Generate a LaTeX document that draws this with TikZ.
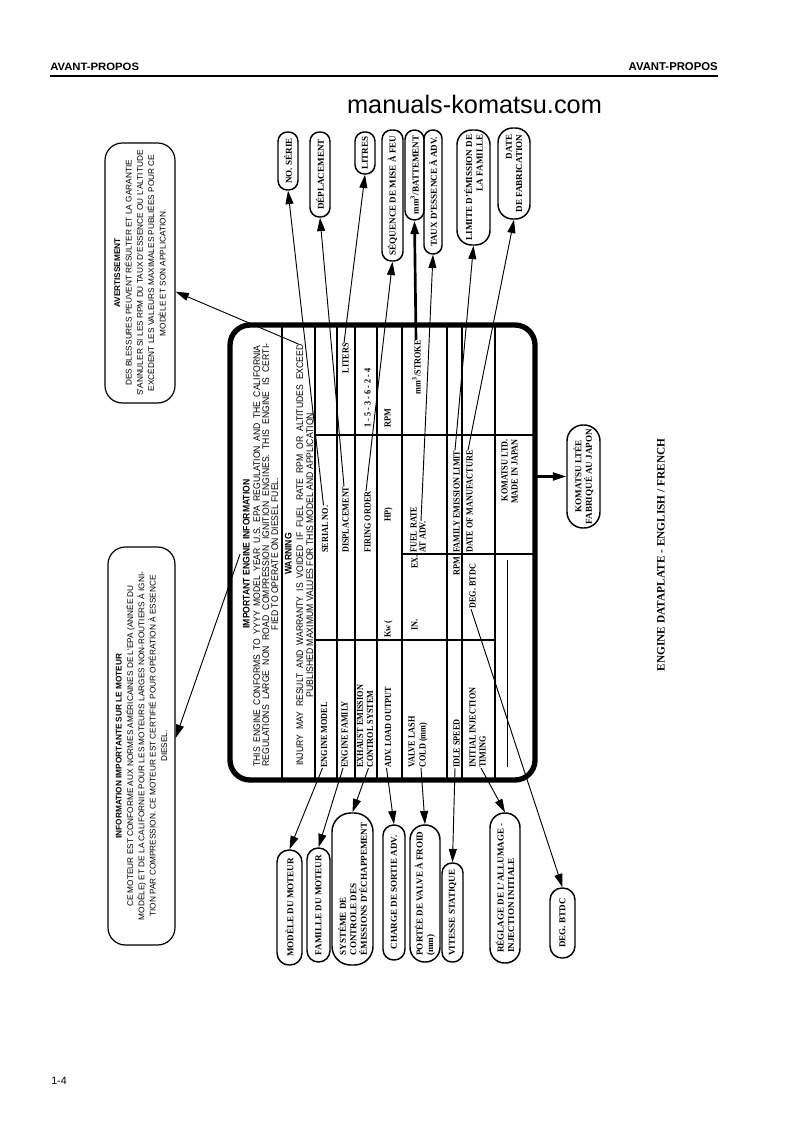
\documentclass[tikz,border=0pt]{standalone}
\usepackage{fontspec}
\setmainfont{Liberation Serif}
\newfontfamily\hdrsans[FakeStretch=0.9]{Liberation Sans}
\newfontfamily\tabserif[FakeStretch=0.88]{Liberation Serif}
\newfontfamily\notesans{Liberation Sans}
\newfontfamily\widesans[FakeStretch=1.06]{Liberation Sans}
\usetikzlibrary{arrows.meta}
\frenchspacing
\begin{document}
\begin{tikzpicture}[x=0.75pt,y=-0.75pt,
  lbl/.style={inner sep=0pt, rotate=90, text height=0.7em, text depth=0pt},
  tab/.style={lbl, font=\tabserif\bfseries\fontsize{7}{8}\selectfont},
  hdr/.style={lbl, font=\hdrsans\fontsize{7.2}{8}\selectfont},
  hdrb/.style={lbl, font=\hdrsans\bfseries\fontsize{7.2}{8}\selectfont},
  pill/.style={draw, line width=1.1pt, rotate=90, inner sep=0pt, align=center, font=\bfseries\fontsize{6.8}{7.8}\selectfont},
  notebox/.style={draw, line width=0.9pt, rounded corners=13pt, rotate=90, inner sep=0pt, align=center, font=\notesans\fontsize{6.2}{8.5}\selectfont},
  lead/.style={line width=0.7pt, -{Triangle[length=10pt,width=6pt]}},
  grid/.style={line width=1.1pt}]

\useasboundingbox (0,0) rectangle (794,1123);
\fill[white] (0,0) rectangle (794,1123);

% page header and footer
\node[anchor=west, inner sep=0pt, font=\widesans\bfseries\fontsize{8}{9}\selectfont] (hl) at (50,67) {AVANT-PROPOS};
\node[anchor=east, inner sep=0pt, font=\notesans\bfseries\fontsize{8.5}{9}\selectfont] (hr) at (718,67) {AVANT-PROPOS};
\draw[line width=0.8pt] (50,76) -- (718,76);
\node[inner sep=0pt, font=\notesans\fontsize{19}{22}\selectfont] (site) at (474.5,104) {manuals-komatsu.com};
\node[anchor=west, inner sep=0pt, font=\notesans\fontsize{8}{9}\selectfont] (pg) at (51,1081) {1-4};

% plate
\node[draw, line width=4pt, rounded corners=15pt, minimum width=228.75pt, minimum height=341.25pt, inner sep=0pt] (plate) at (382.5,552.5) {};
\foreach \x in {282,315,337,355,377,402,447,462,495} \draw[grid] (\x,326) -- (\x,779);
\draw[grid] (315,435) -- (534,435);
\draw[grid] (315,640) -- (495,640);
\draw[grid] (402,554) -- (534,554);
\draw[line width=0.7pt] (507,560) -- (507,767);

% plate header text
\node[hdrb] (iei) at (245,554) {IMPORTANT ENGINE INFORMATION};
\node[hdr] (conf1) at (255.5,556) {\makebox[316pt][s]{THIS ENGINE CONFORMS TO YYYY MODEL YEAR U.S. EPA REGULATION AND THE CALIFORNIA}};
\node[hdr] (conf2) at (264.5,555) {\makebox[317pt][s]{REGULATIONS LARGE NON ROAD COMPRESSION IGNITION ENGINES. THIS ENGINE IS CERTI-}};
\node[hdr] (conf3) at (273.5,554) {FIED TO OPERATE ON DIESEL FUEL.};
\node[hdrb] (warn) at (287,554) {WARNING};
\node[hdr] (injury) at (298.5,555) {\makebox[316pt][s]{INJURY MAY RESULT AND WARRANTY IS VOIDED IF FUEL RATE RPM OR ALTITUDES EXCEED}};
\node[hdr] (publ) at (308.5,554) {PUBLISHED MAXIMUM VALUES FOR THIS MODEL AND APPLICATION.};

% table text
\node[tab, anchor=west] (emodel) at (322.5,768) {ENGINE MODEL};
\node[tab, anchor=west] (serial) at (323.5,553) {SERIAL NO.};
\node[tab, anchor=west] (efam) at (343,768) {ENGINE FAMILY};
\node[tab, anchor=west] (displ) at (344,553) {DISPLACEMENT};
\node[tab, anchor=east] (liters) at (344,343) {LITERS};
\node[tab, anchor=west] (exh) at (358.5,768) {EXHAUST EMISSION};
\node[tab, anchor=west] (ctrl) at (368.5,768) {CONTROL SYSTEM};
\node[tab, anchor=west] (firing) at (366,553) {FIRING ORDER};
\node[tab] (order) at (366,398) {1 - 5 - 3 - 6 - 2 - 4};
\node[tab, anchor=west] (advload) at (386.5,768) {ADV. LOAD OUTPUT};
\node[tab, anchor=west] (kw) at (386,638) {Kw (};
\node[tab, anchor=west] (hp) at (386,522) {HP)};
\node[tab] (rpm1) at (386,418) {RPM};
\node[tab, anchor=west] (vlash) at (410,768) {VALVE LASH};
\node[tab, anchor=west] (cold) at (421,768) {COLD (mm)};
\node[tab, anchor=west] (inn) at (413,631) {IN.};
\node[tab, anchor=west] (exx) at (413,569) {EX.};
\node[tab, anchor=west] (fuel) at (412,553) {FUEL RATE};
\node[tab, anchor=west] (atadv) at (421,553) {AT ADV.};
\node[tab, anchor=east] (stroke) at (416,340) {mm\textsuperscript{3}/STROKE};
\node[tab, anchor=west] (idle) at (455,768) {IDLE SPEED};
\node[tab, anchor=west] (rpm2) at (455,576) {RPM};
\node[tab, anchor=west] (famlim) at (455,553) {FAMILY EMISSION LIMIT};
\node[tab, anchor=west] (initinj) at (471,768) {INITIAL INJECTION};
\node[tab, anchor=west] (timing) at (481,768) {TIMING};
\node[tab, anchor=west] (deg) at (471,609) {DEG. BTDC};
\node[tab, anchor=west] (dom) at (468,553) {DATE OF MANUFACTURE};
\node[tab, anchor=east] (kltd) at (503,439) {KOMATSU LTD.};
\node[tab, anchor=east] (mij) at (513,439) {MADE IN JAPAN};

% top bubbles
\node[pill, minimum width=43.5pt, minimum height=15pt, rounded corners=7pt] (noserie) at (288,161) {NO. SÉRIE};
\node[pill, minimum width=63.75pt, minimum height=15pt, rounded corners=7pt] (deplac) at (320,174.5) {DÉPLACEMENT};
\node[pill, minimum width=31.5pt, minimum height=15pt, rounded corners=7pt] (litres) at (365,153) {LITRES};
\node[pill, minimum width=98.25pt, minimum height=15.75pt, rounded corners=7pt] (sequence) at (392.5,195.5) {SÉQUENCE DE MISE À FEU};
\node[pill, minimum width=67.5pt, minimum height=14.25pt, rounded corners=7pt] (mmbat) at (414.5,175) {mm\textsuperscript{3}/BATTEMENT};
\node[pill, minimum width=93pt, minimum height=13.5pt, rounded corners=6.5pt] (taux) at (433,192) {TAUX D'ESSENCE À ADV.};
\node[pill, minimum width=86.25pt, minimum height=24.75pt, rounded corners=11pt, align=right] (limite) at (473.5,187.5) {LIMITE D'ÉMISSION DE\\LA FAMILLE};
\node[pill, minimum width=68.25pt, minimum height=24pt, rounded corners=11pt, align=right] (datefab) at (514,173.5) {DATE\\DE FABRICATION};

% bottom bubbles
\node[pill, minimum width=86.25pt, minimum height=18.75pt, rounded corners=9pt] (modele) at (289.5,907.5) {MODÈLE DU MOTEUR};
\node[pill, minimum width=85.5pt, minimum height=17.25pt, rounded corners=8.5pt] (famille) at (318.5,905) {FAMILLE DU MOTEUR};
\node[pill, minimum width=114pt, minimum height=30.75pt, rounded corners=14pt, align=left] (systeme) at (352.5,889) {SYSTÈME DE\\CONTROLE DES\\ÉMISSIONS D'ÉCHAPPEMENT};
\node[pill, minimum width=101.25pt, minimum height=16.5pt, rounded corners=8pt] (charge) at (394,892.5) {CHARGE DE SORTIE ADV.};
\node[pill, minimum width=102.75pt, minimum height=22.5pt, rounded corners=11pt, align=left] (portee) at (425,893.5) {PORTÉE DE VALVE À FROID\\(mm)};
\node[pill, minimum width=74.25pt, minimum height=15.75pt, rounded corners=7.5pt] (vitesse) at (452.5,912.5) {VITESSE STATIQUE};
\node[pill, minimum width=112.5pt, minimum height=22.5pt, rounded corners=11pt, align=left] (reglage) at (505,888) {RÉGLAGE DE L'ALLUMAGE -\\INJECTION INITIALE};
\node[pill, minimum width=52.5pt, minimum height=18.75pt, rounded corners=9pt] (degbtdc) at (562.5,923) {DEG. BTDC};
\node[pill, minimum width=77.25pt, minimum height=24.75pt, rounded corners=12pt] (kltee) at (583.5,476.5) {KOMATSU LTÉE\\FABRIQUÉ AU JAPON};

% French notes
\node[notebox, minimum width=195pt, minimum height=52.5pt] (avert) at (140,273) {{\bfseries AVERTISSEMENT}\\DES BLESSURES PEUVENT RÉSULTER ET LA GARANTIE\\S'ANNULER SI LES RPM DU TAUX D'ESSENCE OU L'ALTITUDE\\EXCÈDENT LES VALEURS MAXIMALES PUBLIÉES POUR CE\\MODÈLE ET SON APPLICATION.};
\node[notebox, minimum width=298.5pt, minimum height=50.25pt] (infobox) at (141.5,746) {{\bfseries INFORMATION IMPORTANTE SUR LE MOTEUR}\\CE MOTEUR EST CONFORME AUX NORMES AMÉRICAINES DE L'EPA (ANNÉE DU\\MODÈLE) ET DE LA CALIFORNIE POUR LES MOTEURS LARGES NON-ROUTIERS À IGNI-\\TION PAR COMPRESSION. CE MOTEUR EST CERTIFIÉ POUR OPÉRATION À ESSENCE\\DIESEL.};

% caption
\node[lbl, font=\bfseries\fontsize{8.5}{10}\selectfont] (title) at (660,555) {ENGINE DATAPLATE - ENGLISH / FRENCH};

% leaders
\draw[lead] (serial.east) -- (noserie.west);
\draw[lead] (displ.east) -- (deplac.west);
\draw[lead] (liters.east) -- (litres.west);
\draw[lead] (firing.east) -- (sequence.west);
\draw[lead, line width=2pt] (stroke.east) -- (mmbat.west);
\draw[lead] (atadv.east) -- (taux.west);
\draw[lead] (famlim.east) -- (limite.west);
\draw[lead] (dom.east) -- (datefab.west);
\draw[lead] (injury.east) -- ([yshift=-14pt]avert.south);
\draw[lead] (iei.north) -- ([yshift=6pt]infobox.south);
\draw[lead] (emodel.west) -- (modele.east);
\draw[lead] (efam.west) -- (famille.east);
\draw[lead] (ctrl.west) -- (systeme.east);
\draw[lead] (advload.west) -- (charge.east);
\draw[lead] (cold.west) -- (portee.east);
\draw[lead] (idle.west) -- (vitesse.east);
\draw[lead] (timing.west) -- (reglage.east);
\draw[lead] (deg.west) -- (degbtdc.east);
\coordinate (kstart) at (533,476.5);
\draw[lead, line width=1.6pt] (kstart) -- (kltee.north);
\end{tikzpicture}
\end{document}
